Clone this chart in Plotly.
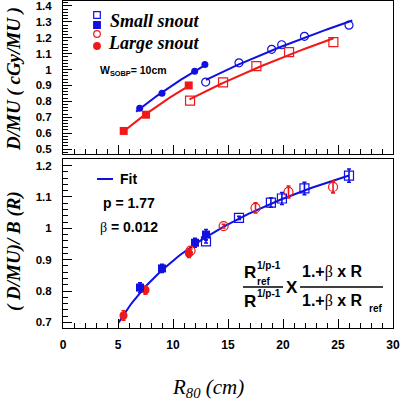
import numpy as np
import plotly.graph_objects as go
from plotly.subplots import make_subplots

# ---------------- data ----------------
# top panel: D/MU vs R80
top_small_filled_x = [6.97, 9.0, 11.97, 12.9]
top_small_filled_y = [0.756, 0.851, 0.989, 1.032]
top_large_filled_x = [5.52, 7.55, 11.43]
top_large_filled_y = [0.614, 0.716, 0.900]
top_small_open_x = [12.97, 16.0, 18.97, 19.88, 21.95, 26.0]
top_small_open_y = [0.921, 1.042, 1.127, 1.156, 1.209, 1.279]
top_large_open_x = [11.55, 14.55, 17.58, 20.55, 24.58]
top_large_open_y = [0.805, 0.919, 1.021, 1.110, 1.173]

# fitted-line extents (cm) in the top panel
fit_range_small_filled = [6.65, 13.1]
fit_range_large_filled = [5.5, 11.4]
fit_range_small_open = [13.0, 26.3]
fit_range_large_open = [11.5, 24.6]

# bottom panel: (D/MU)/B(R)
bot_small_filled_x = [7.0, 9.0, 12.0, 13.0]
bot_small_filled_y = [0.811, 0.872, 0.954, 0.980]
bot_small_filled_e = [0.015, 0.013, 0.014, 0.016]
bot_large_filled_x = [5.5, 7.5, 11.45]
bot_large_filled_y = [0.722, 0.803, 0.920]
bot_large_filled_e = [0.015, 0.013, 0.013]
bot_small_open_x = [13.0, 16.0, 18.9, 19.9, 21.95, 26.0]
bot_small_open_y = [0.958, 1.033, 1.082, 1.095, 1.127, 1.168]
bot_small_open_e = [0.005, 0.005, 0.015, 0.019, 0.020, 0.021]
bot_large_open_x = [11.6, 14.6, 17.5, 20.5, 24.55]
bot_large_open_y = [0.929, 1.007, 1.065, 1.116, 1.132]
bot_large_open_e = [0.005, 0.006, 0.016, 0.019, 0.019]
bot_fit_range = [5.05, 26.0]

x_ticks = [0, 5, 10, 15, 20, 25, 30]

BLUE = "#1010e0"
RED = "#f01818"

# ---------------- helpers ----------------
def power_fit(xs, ys, rng):
    b, a = np.polyfit(np.log(xs), np.log(ys), 1)
    xx = np.linspace(rng[0], rng[1], 60)
    return xx, np.exp(a) * xx ** b

fig = make_subplots(rows=2, cols=1, shared_xaxes=False, vertical_spacing=0.0)

# top panel lines
for xs, ys, rng, col in [
    (top_small_filled_x, top_small_filled_y, fit_range_small_filled, BLUE),
    (top_large_filled_x, top_large_filled_y, fit_range_large_filled, RED),
    (top_small_open_x, top_small_open_y, fit_range_small_open, BLUE),
    (top_large_open_x, top_large_open_y, fit_range_large_open, RED),
]:
    fx, fy = power_fit(xs, ys, rng)
    fig.add_trace(go.Scatter(x=fx, y=fy, mode="lines", line=dict(color=col, width=2),
                             showlegend=False, hoverinfo="skip"), row=1, col=1)

fig.add_trace(go.Scatter(x=top_small_filled_x, y=top_small_filled_y, mode="markers",
                         marker=dict(symbol="circle", size=7, color=BLUE), showlegend=False), row=1, col=1)
fig.add_trace(go.Scatter(x=top_large_filled_x, y=top_large_filled_y, mode="markers",
                         marker=dict(symbol="square", size=8, color=RED), showlegend=False), row=1, col=1)
fig.add_trace(go.Scatter(x=top_small_open_x, y=top_small_open_y, mode="markers",
                         marker=dict(symbol="circle-open", size=8, color=BLUE, line=dict(width=1.2)),
                         showlegend=False), row=1, col=1)
fig.add_trace(go.Scatter(x=top_large_open_x, y=top_large_open_y, mode="markers",
                         marker=dict(symbol="square-open", size=9, color=RED, line=dict(width=1.2)),
                         showlegend=False), row=1, col=1)

# bottom panel fit (quadratic in ln R through all normalised points)
all_x = np.array(bot_small_filled_x + bot_large_filled_x + bot_small_open_x + bot_large_open_x)
all_y = np.array(bot_small_filled_y + bot_large_filled_y + bot_small_open_y + bot_large_open_y)
coef = np.polyfit(np.log(all_x), all_y, 2)
fxx = np.linspace(bot_fit_range[0], bot_fit_range[1], 100)
fig.add_trace(go.Scatter(x=fxx, y=np.polyval(coef, np.log(fxx)), mode="lines",
                         line=dict(color=BLUE, width=2), showlegend=False, hoverinfo="skip"), row=2, col=1)

def err(e, col):
    return dict(type="data", array=e, visible=True, color=col, thickness=1.6, width=2)

fig.add_trace(go.Scatter(x=bot_large_filled_x, y=bot_large_filled_y, mode="markers",
                         error_y=err(bot_large_filled_e, RED),
                         marker=dict(symbol="circle", size=8, color=RED), showlegend=False), row=2, col=1)
fig.add_trace(go.Scatter(x=bot_small_filled_x, y=bot_small_filled_y, mode="markers",
                         error_y=err(bot_small_filled_e, BLUE),
                         marker=dict(symbol="square", size=8, color=BLUE), showlegend=False), row=2, col=1)
fig.add_trace(go.Scatter(x=bot_large_open_x, y=bot_large_open_y, mode="markers",
                         error_y=err(bot_large_open_e, RED),
                         marker=dict(symbol="circle-open", size=9, color=RED, line=dict(width=1.2)),
                         showlegend=False), row=2, col=1)
fig.add_trace(go.Scatter(x=bot_small_open_x, y=bot_small_open_y, mode="markers",
                         error_y=err(bot_small_open_e, BLUE),
                         marker=dict(symbol="square-open", size=9, color=BLUE, line=dict(width=1.2)),
                         showlegend=False), row=2, col=1)

# ---------------- axes ----------------
W, H = 400, 403
ML, MR, MT, MB = 63, 7, 1, 75
PW, PH = W - ML - MR, H - MT - MB

def py(p):
    return (H - MB - p) / PH

def px(p):
    return (p - ML) / PW

tickfont = dict(family="Liberation Sans, Arial", size=12, color="black", weight="bold")
common = dict(showgrid=False, zeroline=False, showline=True, mirror=True, linecolor="black",
              linewidth=1, ticks="inside", ticklen=9, tickcolor="black", tickwidth=1, automargin=False,
              ticklabeloverflow="allow")

fig.update_xaxes(range=[0, 30], tickvals=x_ticks, ticktext=[str(v) for v in x_ticks],
                 minor=dict(dtick=1, tick0=0, ticks="inside", ticklen=5, tickcolor="black", showgrid=False),
                 tickfont=tickfont, ticklabelstandoff=6, **common)
fig.update_xaxes(showticklabels=False, domain=[0, 1], row=1, col=1)
fig.update_xaxes(domain=[0, 1], row=2, col=1)

fig.update_yaxes(range=[0.469, 1.431], tick0=0.5, dtick=0.1, row=1, col=1,
                 domain=[py(154), 1],
                 minor=dict(dtick=0.02, tick0=0.5, ticks="inside", ticklen=5, tickcolor="black", showgrid=False),
                 tickfont=dict(tickfont, size=11.5), ticklabelstandoff=8, **common)
fig.update_yaxes(range=[0.682, 1.221], tick0=0.7, dtick=0.1, row=2, col=1,
                 domain=[0, py(159)],
                 minor=dict(dtick=0.02, tick0=0.7, ticks="inside", ticklen=5, tickcolor="black", showgrid=False),
                 tickfont=dict(tickfont, size=11.5), ticklabelstandoff=8, **common)

# ---------------- text / decorations ----------------
ann = []
shapes = []
def txt(text, x, y, size, family="Liberation Sans, Arial", xanchor="left", yanchor="middle", angle=0, weight="bold"):
    ann.append(dict(text=text, x=px(x), y=py(y), xref="paper", yref="paper", showarrow=False,
                    xanchor=xanchor, yanchor=yanchor, textangle=angle, borderpad=0,
                    font=dict(family=family, size=size, color="black", weight=weight)))

SERIF = "Liberation Serif, Times New Roman"
# axis titles
txt("<i>D/MU ( cGy/MU )</i>", 14, 79, 19, family=SERIF, xanchor="center", angle=-90)
txt("<i>( D/MU)/ B (R)</i>", 14, 251, 19, family=SERIF, xanchor="center", angle=-90)
txt("<i>R<sub>80</sub> (cm)</i>", 208, 388, 21, family=SERIF, xanchor="center", weight="normal")

# top legend
txt("<i>Small snout</i>", 109, 21, 18, family=SERIF)
txt("<i>Large snout</i>", 107, 43, 18, family=SERIF)
s = 3.3
for (cx, cy, kind, col, fill) in [(97, 15, "rect", BLUE, False), (97, 25, "rect", BLUE, True),
                                  (97, 34, "circle", RED, False), (97, 46, "circle", RED, True)]:
    shapes.append(dict(type=kind, xref="paper", yref="paper", x0=px(cx - s), x1=px(cx + s),
                       y0=py(cy + s), y1=py(cy - s), line=dict(color=col, width=1.2),
                       fillcolor=col if fill else "rgba(0,0,0,0)"))
txt("W<sub>SOBP</sub>= 10cm", 99, 71, 10.5)

# bottom legend and parameters
shapes.append(dict(type="line", xref="paper", yref="paper", x0=px(97), x1=px(113), y0=py(179), y1=py(179),
                   line=dict(color=BLUE, width=2)))
txt("Fit", 119, 179, 14)
txt("p = 1.77", 102, 203, 14)
txt('<span style="font-family:Liberation Serif;font-weight:normal">β</span> = 0.012', 99, 227, 14)

# formula
txt("R", 243, 272, 17)
txt("1/p-1", 256, 265, 10)
txt("ref", 256, 281, 10)
shapes.append(dict(type="line", xref="paper", yref="paper", x0=px(243), x1=px(283), y0=py(287), y1=py(287),
                   line=dict(color="black", width=1.5)))
txt("R", 243, 301, 17)
txt("1/p-1", 256, 293, 10)
txt("X", 285, 287, 17)
txt('1.+<span style="font-family:Liberation Serif;font-weight:normal">β</span> x R', 301, 272, 16)
shapes.append(dict(type="line", xref="paper", yref="paper", x0=px(300), x1=px(383), y0=py(287), y1=py(287),
                   line=dict(color="black", width=1.5)))
txt('1.+<span style="font-family:Liberation Serif;font-weight:normal">β</span> x R', 301, 301, 16)
txt("ref", 368, 308, 10)

fig.update_layout(width=W, height=H, margin=dict(l=ML, r=MR, t=MT, b=MB, autoexpand=False),
                  paper_bgcolor="white", plot_bgcolor="white", annotations=ann, shapes=shapes,
                  showlegend=False)

fig.write_html("out.html", config={"displayModeBar": False},
               post_script="document.body.style.margin='0';document.body.style.overflow='hidden';")
